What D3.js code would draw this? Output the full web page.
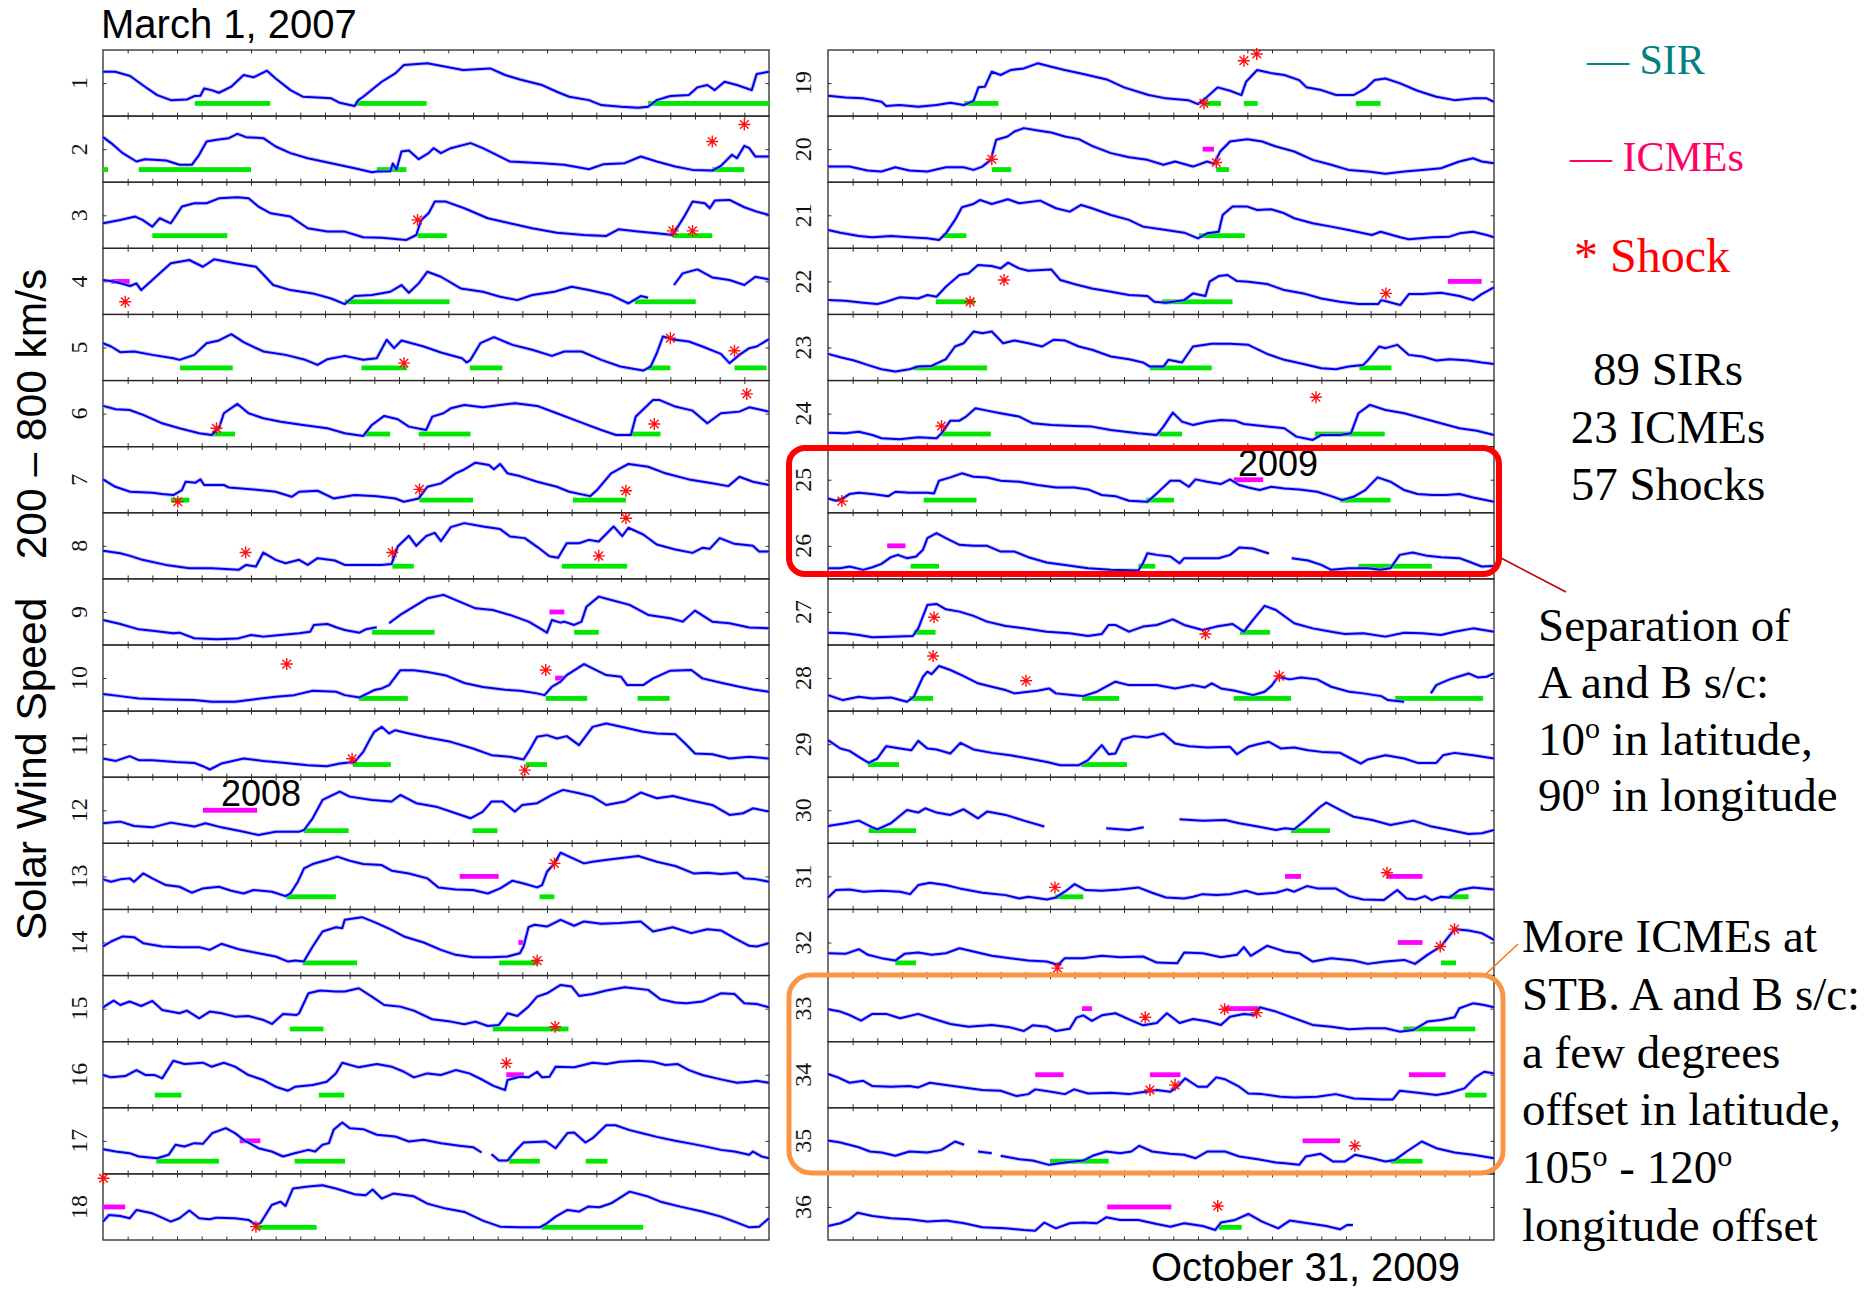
<!DOCTYPE html>
<html>
<head>
<meta charset="utf-8">
<script src="https://cdn.jsdelivr.net/npm/d3@7"></script>
<style>
  body { margin: 0; background: #fff; }
  svg { display: block; }
</style>
</head>
<body>
<div id="chart"></div>
<script>
// Solar wind speed, 36 Carrington rotations of 27 days, March 1 2007 - October 31 2009
// each series: [day in rotation, speed km/s]; null marks a data gap
const rot01 = [[0,603],[0.5,603],[1.1,564],[1.8,451],[2.2,391],[2.75,345],[3.4,351],[3.7,382],[3.95,385],[4.1,451],[4.4,436],[4.7,412],[5.2,467],[5.7,573],[6.1,552],[6.65,612],[7.0,542],[7.6,436],[8.1,376],[8.7,370],[9.25,361],[9.6,321],[10.2,291],[10.35,345],[10.55,376],[11.3,512],[11.85,588],[12.2,664],[13.15,679],[13.9,648],[14.6,618],[15.7,633],[16.3,573],[16.9,533],[17.8,482],[18.4,421],[18.9,376],[19.7,345],[20.2,300],[21.0,285],[21.7,276],[22.1,285],[22.45,345],[23.0,382],[23.75,391],[24.1,461],[24.5,482],[24.8,436],[25.2,512],[25.7,482],[26.3,436],[26.5,582],[27,603]];
const rot02 = [[0,609],[0.33,555],[0.8,464],[1.36,388],[1.7,409],[2.56,397],[3.1,358],[3.6,358],[3.9,449],[4.2,570],[4.6,585],[5.1,600],[5.45,639],[5.8,609],[6.5,600],[7.0,524],[7.6,464],[8.3,418],[9.25,373],[10.2,327],[10.9,291],[11.1,297],[11.65,300],[11.75,370],[11.9,315],[12.1,479],[12.4,488],[12.8,409],[13.2,464],[13.4,509],[13.7,464],[14.1,509],[14.9,555],[15.4,509],[15.95,449],[16.5,388],[17.8,373],[18.7,358],[19.7,318],[20.3,364],[21.15,373],[21.8,433],[22.45,388],[23.2,342],[23.9,312],[24.7,306],[25.05,348],[25.5,449],[25.7,418],[26.0,530],[26.2,509],[26.45,433],[27,433]];
const rot03 = [[0,427],[0.7,458],[1.3,488],[1.6,458],[2.0,397],[2.3,473],[2.75,427],[3.2,579],[3.7,609],[4.2,609],[4.7,654],[5.45,663],[5.9,654],[6.3,579],[6.8,518],[7.6,488],[8.3,382],[9.1,352],[9.8,352],[10.55,300],[11.3,297],[12.3,276],[12.7,321],[12.9,458],[13.2,518],[13.45,624],[13.9,624],[14.65,564],[15.6,473],[16.5,427],[17.4,382],[18.4,342],[19.5,321],[20.4,312],[20.9,373],[21.7,352],[22.45,336],[23.1,321],[23.6,503],[23.9,624],[24.4,609],[24.6,564],[24.8,633],[25.4,639],[26.0,573],[26.5,533],[27,503]];
const rot04 = [[0,512],[0.5,497],[1.1,458],[1.35,482],[1.55,421],[2.0,512],[2.75,664],[3.5,694],[4.05,633],[4.5,700],[5.35,664],[6.2,633],[6.9,467],[7.6,421],[8.5,391],[9.25,345],[9.8,294],[10.2,367],[10.9,376],[11.65,406],[12.1,467],[12.4,397],[12.8,482],[13.15,588],[13.7,542],[14.5,436],[15.4,406],[16.1,361],[16.8,330],[17.4,376],[18.3,406],[19.0,452],[19.7,421],[20.6,376],[21.3,300],[21.8,367],[22.1,352],null,[23.15,467],[23.5,573],[24.1,609],[24.7,536],[25.4,512],[26.0,467],[26.45,542],[27,518]];
const rot05 = [[0,539],[0.33,509],[0.7,458],[1.26,464],[2.0,433],[2.85,403],[3.1,388],[3.7,433],[4.2,539],[4.7,564],[5.2,621],[5.7,548],[6.5,464],[7.4,433],[8.2,388],[8.7,342],[9.1,394],[9.8,424],[10.55,388],[11.1,403],[11.5,570],[11.8,494],[12.1,564],[13.0,509],[13.7,455],[14.55,403],[14.75,364],[14.9,388],[15.3,539],[15.85,594],[16.6,524],[17.4,479],[18.2,424],[18.7,464],[19.4,464],[20.2,388],[20.97,327],[21.9,291],[22.2,327],[22.45,448],[22.7,600],[23.2,570],[23.75,554],[24.3,509],[25.05,442],[25.4,358],[25.8,433],[26.2,494],[26.5,509],[27,576]];
const rot06 = [[0,570],[0.52,539],[1.08,533],[1.63,488],[2.4,412],[3.1,367],[3.9,321],[4.4,306],[4.7,367],[4.9,503],[5.45,588],[5.9,503],[6.5,458],[7.2,427],[8.1,397],[9.1,367],[9.8,321],[10.55,297],[10.9,397],[11.4,479],[11.95,449],[12.4,382],[13.1,351],[13.35,473],[13.8,503],[14.1,548],[14.65,579],[15.4,557],[16.1,579],[16.7,594],[17.6,570],[18.4,503],[19.3,427],[20.2,351],[20.8,306],[21.4,306],[21.6,473],[22.3,624],[22.55,624],[23.2,564],[23.9,527],[24.5,412],[25.05,503],[25.8,518],[26.2,557],[27,518]];
const rot07 = [[0,503],[0.5,436],[1.1,391],[2.0,382],[2.4,370],[2.85,361],[3.2,406],[3.35,482],[3.75,473],[3.95,503],[4.1,452],[4.9,452],[5.1,430],[6.1,412],[7.0,391],[7.65,345],[7.95,391],[8.7,400],[9.35,330],[10.2,361],[11.1,351],[11.85,330],[12.2,300],[12.8,330],[13.15,436],[13.7,467],[14.3,558],[14.6,588],[15.1,655],[15.65,633],[15.85,594],[16.1,643],[16.4,558],[16.9,533],[17.6,482],[18.4,436],[18.9,391],[19.75,351],[20.05,412],[20.6,558],[21.3,643],[22.1,618],[22.8,558],[23.75,503],[24.7,467],[25.35,442],[25.8,527],[26.35,482],[27,452]];
const rot08 = [[0,455],[0.7,433],[1.1,409],[1.6,373],[2.55,327],[3.5,297],[4.4,297],[5.5,282],[5.8,327],[6.2,312],[6.5,439],[7.0,373],[7.4,342],[7.95,373],[8.3,327],[8.7,388],[9.4,367],[9.8,327],[11.3,327],[11.7,336],[11.95,494],[12.4,591],[12.7,500],[13.1,588],[13.45,618],[13.7,542],[14.1,670],[14.65,706],[15.4,676],[16.1,652],[16.5,585],[17.1,570],[17.6,491],[18.1,406],[18.45,391],[18.8,524],[19.3,524],[19.7,554],[20.1,539],[20.7,676],[21.05,588],[21.3,664],[21.9,603],[22.45,512],[23.2,467],[23.9,436],[24.3,482],[24.6,473],[25.0,570],[25.6,518],[26.35,500],[26.6,448],[27,448]];
const rot09 = [[0,427],[0.7,391],[1.45,342],[2.0,330],[2.85,306],[3.1,312],[3.7,261],[4.6,252],[5.45,258],[6.0,291],[6.5,276],[7.2,291],[7.95,306],[8.4,321],[8.55,382],[9.1,391],[9.45,361],[9.8,336],[10.4,312],[10.65,342],[11.1,361],null,[11.6,397],[12.05,473],[12.6,548],[13.15,624],[13.8,655],[14.45,594],[15.1,533],[15.8,518],[16.5,473],[17.25,412],[17.6,367],[18.0,312],[18.2,427],[18.55,403],[18.7,412],[19.1,382],[19.4,412],[19.6,548],[20.1,639],[20.6,609],[21.35,564],[22.1,473],[23.0,442],[23.5,412],[24.0,512],[24.7,412],[25.4,397],[26.2,358],[27,352]];
const rot10 = [[0,355],[0.7,336],[1.45,315],[2.55,306],[3.7,300],[4.4,285],[5.35,285],[6.1,306],[7.0,330],[7.75,345],[8.5,385],[9.45,376],[9.8,345],[10.4,324],[11.0,391],[11.3,406],[11.6,436],[12.05,570],[12.6,570],[13.15,555],[13.9,524],[14.65,455],[15.4,418],[16.3,394],[16.9,385],[17.6,361],[17.9,345],[18.2,421],[18.55,467],[18.8,527],[19.5,627],[19.85,588],[20.4,527],[21.0,512],[21.25,436],[21.9,436],[22.3,497],[23.0,567],[23.85,573],[24.3,497],[25.05,458],[25.8,421],[26.35,397],[27,376]];
const rot11 = [[0,370],[0.52,348],[1.08,391],[1.45,355],[2.0,355],[2.94,339],[3.7,330],[4.05,300],[4.33,270],[4.8,324],[5.7,370],[6.5,348],[7.4,330],[8.3,309],[9.07,300],[9.6,324],[10.2,339],[10.55,430],[10.8,536],[11.0,612],[11.3,657],[11.6,597],[11.85,627],[12.4,597],[13.15,561],[14.1,521],[15.0,461],[15.75,400],[16.5,385],[17.05,361],[17.25,430],[17.6,567],[18.0,582],[18.4,551],[18.8,573],[19.3,491],[19.85,657],[20.4,688],[21.15,651],[21.9,612],[22.45,597],[23.2,591],[23.6,506],[24.0,415],[24.7,409],[25.4,370],[26.2,385],[27,370]];
const rot12 = [[0,382],[0.7,397],[1.26,358],[2.0,345],[2.75,388],[3.7,352],[4.15,382],[4.8,345],[5.7,306],[6.3,276],[7.0,306],[7.95,306],[8.15,321],[8.5,427],[8.9,594],[9.6,670],[10.0,624],[10.9,594],[11.7,579],[12.05,639],[12.7,564],[13.5,533],[14.3,473],[14.9,427],[15.4,488],[15.75,579],[16.2,579],[16.7,488],[17.0,548],[17.6,564],[18.2,639],[18.65,685],[19.3,655],[19.85,624],[20.4,548],[21.15,579],[21.8,661],[22.45,609],[23.1,630],[23.75,594],[24.7,548],[25.4,458],[25.95,473],[26.35,518],[27,488]];
const rot13 = [[0,473],[0.33,452],[0.7,473],[1.08,482],[1.26,452],[1.63,527],[2.0,482],[2.55,421],[3.1,406],[3.6,352],[4.05,391],[4.7,406],[5.2,370],[5.7,345],[6.1,376],[6.85,361],[7.4,321],[7.6,345],[7.9,452],[8.15,573],[8.5,612],[9.07,648],[9.5,679],[10.0,642],[10.55,612],[11.3,603],[11.7,552],[12.4,527],[13.15,482],[13.6,400],[14.3,382],[15.0,376],[15.6,345],[16.1,391],[16.6,461],[17.05,436],[17.6,400],[17.8,421],[18.0,542],[18.3,618],[18.55,715],[18.9,679],[19.5,618],[19.85,633],[20.6,655],[21.7,685],[22.45,633],[23.2,594],[23.95,527],[24.5,533],[25.05,521],[25.7,533],[26.0,482],[26.5,473],[27,452]];
const rot14 = [[0,464],[0.33,509],[0.8,555],[1.26,548],[1.63,494],[2.4,464],[3.1,458],[3.9,458],[4.33,433],[4.8,488],[5.5,439],[6.3,403],[7.0,373],[7.5,327],[7.8,336],[8.14,327],[8.5,464],[8.9,600],[9.45,639],[9.7,630],[9.8,706],[10.5,730],[11.1,676],[11.7,615],[12.2,555],[13.0,500],[13.7,433],[14.3,388],[15.0,367],[15.75,367],[16.4,373],[16.9,403],[17.05,464],[17.25,639],[17.5,661],[18.0,645],[18.55,706],[19.1,652],[19.5,691],[20.2,670],[20.95,676],[21.8,691],[22.3,600],[23.1,639],[23.85,585],[24.5,621],[25.05,609],[25.6,539],[26.2,470],[26.5,464],[27,494]];
const rot15 = [[0,512],[0.43,573],[0.7,533],[1.08,564],[1.55,524],[2.0,570],[2.4,488],[3.1,458],[3.4,482],[3.9,412],[4.33,473],[4.8,458],[5.35,427],[5.9,433],[6.5,397],[6.85,361],[7.3,452],[7.85,442],[7.95,458],[8.33,639],[8.8,664],[9.44,655],[9.8,655],[10.37,685],[10.9,609],[11.4,533],[12.05,518],[12.6,482],[13.35,403],[14.1,382],[14.65,358],[15.1,382],[15.6,342],[16.05,352],[16.4,458],[16.8,433],[17.25,518],[17.6,609],[18.0,639],[18.55,715],[19.0,700],[19.3,615],[19.85,633],[20.4,664],[21.15,694],[22.1,670],[22.6,585],[23.2,555],[23.65,548],[24.3,564],[25.05,639],[25.6,633],[26.0,548],[26.5,542],[27,512]];
const rot16 = [[0,497],[0.33,476],[0.9,488],[1.36,542],[1.73,497],[2.1,497],[2.4,467],[2.85,627],[3.3,597],[4.05,609],[4.4,573],[4.9,609],[5.35,573],[5.9,497],[6.5,452],[7.0,391],[7.5,355],[7.8,391],[8.5,406],[9.07,436],[9.44,512],[9.7,609],[10.37,567],[11.1,597],[11.7,573],[12.2,527],[12.6,476],[13.15,512],[13.7,497],[14.3,542],[14.85,512],[15.4,452],[15.85,397],[16.3,361],[16.4,452],[16.9,482],[17.25,476],[17.6,527],[17.8,476],[18.1,482],[18.35,573],[19.1,567],[19.85,609],[20.4,597],[20.95,618],[21.7,627],[22.3,618],[22.8,588],[23.3,597],[23.75,542],[24.3,497],[25.05,458],[25.7,427],[26.2,436],[26.5,445],[27,427]];
const rot17 = [[0,424],[0.52,403],[1.08,388],[1.45,358],[2.2,342],[2.66,373],[2.94,464],[3.3,448],[3.7,479],[4.05,473],[4.43,570],[4.98,615],[5.35,570],[5.7,509],[6.3,433],[6.84,403],[7.3,358],[7.77,388],[8.33,418],[8.6,403],[8.9,464],[9.16,479],[9.35,600],[9.7,667],[10.0,615],[10.55,606],[11.1,555],[11.85,539],[12.4,494],[13.0,509],[13.7,479],[14.45,455],[15.0,442],[15.35,394],null,[15.75,379],[16.05,321],[16.4,321],[16.7,403],[17.05,485],[17.96,494],[18.35,433],[18.83,570],[19.1,576],[19.56,485],[19.85,524],[20.4,642],[20.78,642],[21.35,597],[21.9,567],[22.45,536],[23.2,500],[23.94,470],[24.5,445],[25.05,418],[25.6,403],[26.2,373],[26.35,403],[26.7,358],[27,342]];
const rot18 = [[0,367],[0.24,427],[0.7,418],[1.08,397],[1.36,473],[2.0,442],[2.75,367],[3.1,397],[3.5,467],[3.9,397],[4.33,388],[4.6,403],[5.35,397],[5.9,382],[6.2,336],[6.4,358],[6.84,518],[7.2,548],[7.4,509],[7.7,667],[8.33,685],[8.9,697],[9.44,667],[10.2,615],[10.65,606],[10.93,658],[11.3,576],[11.77,621],[12.6,597],[13.15,530],[13.9,485],[14.65,455],[15.4,376],[16.1,321],[16.9,315],[17.7,315],[18.0,352],[18.35,412],[18.83,473],[19.3,458],[19.67,503],[20.13,497],[20.6,533],[21.35,639],[22.1,594],[22.6,548],[23.4,503],[24.3,458],[25.05,412],[25.6,367],[26.2,315],[26.6,321],[27,397]];
const rot19 = [[0,385],[0.7,370],[1.43,361],[2.17,330],[2.36,291],[2.9,300],[3.66,285],[4.4,300],[4.96,321],[5.5,300],[5.9,339],[6.1,461],[6.36,467],[6.64,603],[7.0,573],[7.4,618],[7.94,633],[8.5,679],[9.05,648],[9.6,618],[10.35,582],[11.3,533],[12.0,461],[13.0,391],[13.7,361],[14.6,345],[15.0,309],[15.3,361],[15.8,461],[16.3,430],[16.76,391],[16.95,512],[17.4,618],[18.0,588],[18.5,573],[19.1,527],[19.4,461],[20.0,436],[20.6,391],[21.3,391],[21.8,451],[22.16,527],[22.6,542],[23.2,497],[23.9,430],[24.66,376],[25.4,345],[26.15,361],[26.7,361],[27,330]];
const rot20 = [[0,342],[0.87,342],[1.6,306],[2.17,297],[2.73,336],[3.3,306],[4.03,297],[4.78,336],[5.5,336],[5.9,312],[6.26,342],[6.6,403],[6.82,585],[7.28,615],[7.56,660],[7.94,691],[8.5,670],[9.05,651],[9.6,615],[10.17,591],[10.7,530],[11.47,464],[12.2,427],[12.95,403],[13.6,358],[14.07,388],[14.8,342],[15.37,388],[15.65,367],[15.9,479],[16.3,570],[17.0,591],[17.6,570],[18.16,524],[18.9,479],[19.65,403],[20.4,358],[21.1,312],[21.9,297],[22.6,276],[23.36,297],[24.1,312],[24.85,327],[25.6,388],[26.15,418],[26.5,388],[27,373]];
const rot21 = [[0,367],[0.5,342],[1.25,312],[1.8,300],[2.55,312],[3.3,300],[4.03,291],[4.5,276],[4.78,336],[5.15,458],[5.43,573],[5.9,603],[6.17,639],[6.64,603],[7.29,645],[7.75,609],[8.6,633],[9.24,564],[9.8,533],[10.26,594],[10.7,564],[11.47,503],[12.2,458],[12.77,397],[13.7,367],[14.44,342],[15.0,291],[15.37,336],[15.84,351],[16.0,503],[16.4,579],[17.0,579],[17.4,548],[17.97,554],[18.5,518],[18.9,473],[19.65,427],[20.4,397],[21.1,367],[22.05,321],[22.4,351],[23.2,300],[23.55,282],[24.5,300],[25.2,306],[25.6,336],[26.15,351],[26.7,321],[27,300]];
const rot22 = [[0,330],[0.7,324],[1.43,306],[2.0,294],[2.36,315],[2.9,355],[3.66,345],[4.03,376],[4.4,361],[4.78,452],[5.33,558],[5.7,573],[6.08,648],[6.64,639],[7.0,618],[7.3,670],[7.75,618],[8.12,597],[9.05,609],[9.42,512],[9.98,476],[10.7,436],[11.47,406],[12.2,376],[12.95,367],[13.23,315],[13.7,306],[14.44,330],[14.8,391],[15.3,367],[15.47,497],[15.84,548],[16.2,558],[16.58,503],[17.04,497],[17.8,476],[18.5,421],[19.27,391],[20.0,345],[20.76,315],[21.5,294],[22.3,294],[22.43,330],[22.7,315],[23.2,285],[23.55,385],[24.1,385],[24.85,397],[25.6,367],[26.15,330],[26.5,385],[27,445]];
const rot23 = [[0,442],[0.5,412],[1.06,382],[1.6,342],[2.17,303],[2.73,282],[3.3,303],[3.66,327],[4.2,333],[4.78,394],[5.15,509],[5.5,539],[5.9,645],[6.26,630],[6.64,645],[7.1,539],[7.56,564],[8.12,539],[8.68,509],[9.14,570],[9.6,564],[10.17,509],[10.7,479],[11.47,418],[12.2,394],[12.77,364],[13.05,327],[13.6,327],[13.8,388],[14.35,364],[14.8,509],[15.56,533],[16.3,533],[17.04,524],[17.8,442],[18.5,388],[19.27,351],[20.0,312],[20.6,303],[21.1,327],[21.7,342],[21.9,388],[22.34,509],[22.6,494],[23.08,524],[23.55,433],[24.1,418],[24.66,382],[25.2,394],[25.97,382],[26.5,364],[27,351]];
const rot24 = [[0,327],[0.7,321],[1.25,336],[1.8,306],[2.17,276],[2.9,267],[3.66,285],[4.4,276],[4.6,321],[4.96,436],[5.33,436],[5.6,473],[5.98,548],[6.45,527],[7.0,503],[7.75,473],[8.3,412],[9.05,397],[9.98,388],[10.7,382],[11.47,351],[12.58,321],[13.33,306],[13.6,382],[13.98,509],[14.35,427],[14.8,397],[15.37,427],[15.93,442],[16.5,436],[16.86,406],[17.6,388],[18.5,367],[18.99,291],[19.65,261],[20.0,306],[20.76,306],[21.2,321],[21.5,503],[21.97,579],[22.6,533],[23.36,503],[24.1,458],[24.85,412],[25.6,367],[26.3,345],[27,306]];
const rot25 = [[0,330],[0.32,309],[0.6,330],[0.87,370],[1.25,382],[1.8,370],[2.45,351],[2.73,391],[3.3,382],[4.03,382],[4.3,376],[4.5,491],[4.96,521],[5.43,558],[5.9,527],[6.45,521],[7.0,491],[7.75,482],[8.5,452],[9.24,430],[9.98,430],[10.54,412],[11.1,361],[11.65,351],[12.2,309],[12.95,300],[13.33,376],[13.88,491],[14.25,491],[14.63,436],[14.9,503],[15.37,482],[15.93,461],[16.3,503],[16.67,452],[17.04,430],[17.5,406],[17.97,436],[18.5,421],[19.1,412],[19.83,391],[20.4,351],[20.85,315],[21.3,345],[21.78,406],[22.28,521],[22.8,482],[23.36,406],[23.9,370],[24.5,361],[25.05,361],[25.6,370],[26.15,339],[27,300]];
const rot26 = [[0,297],[0.5,297],[0.87,312],[1.43,282],[1.8,306],[2.17,336],[2.55,397],[2.83,418],[3.2,388],[3.57,403],[3.85,464],[4.03,570],[4.4,615],[4.78,570],[5.33,509],[5.9,500],[6.45,500],[7.0,448],[7.56,448],[8.12,397],[8.87,348],[9.6,327],[10.54,297],[11.47,282],[12.58,276],[12.77,342],[12.95,433],[13.33,418],[13.88,403],[14.25,342],[14.44,388],[15.19,388],[15.84,388],[16.3,418],[16.67,485],[17.23,476],[17.88,430],null,[18.8,388],[19.46,367],[20.0,327],[20.4,282],[21.13,297],[21.88,297],[22.4,282],[22.8,297],[23.18,418],[23.7,439],[24.3,409],[24.85,397],[25.6,388],[25.97,358],[26.5,312],[27,318]];
const rot27 = [[0,312],[0.7,306],[1.25,291],[1.8,270],[2.55,276],[3.44,282],[3.66,351],[4.03,564],[4.4,573],[4.78,524],[5.33,503],[5.9,464],[6.45,412],[7.2,373],[7.94,351],[8.87,321],[9.8,306],[10.54,282],[11.1,300],[11.38,382],[11.65,382],[12.2,321],[12.77,367],[13.33,382],[13.98,433],[14.44,382],[15.19,336],[15.74,367],[16.4,391],[16.86,321],[17.23,427],[17.7,555],[18.16,518],[18.9,397],[19.65,351],[20.4,321],[20.95,300],[21.7,306],[22.6,276],[23.36,312],[24.1,306],[24.85,291],[25.4,321],[26.15,351],[27,321]];
const rot28 = [[0,345],[0.6,300],[1.25,330],[1.8,315],[2.55,324],[3.2,285],[3.48,330],[3.85,512],[4.03,558],[4.2,536],[4.5,609],[4.96,573],[5.5,518],[6.08,452],[6.64,421],[7.2,391],[7.56,361],[8.12,376],[8.5,385],[8.96,406],[9.24,361],[9.98,345],[10.35,336],[10.9,376],[11.65,467],[12.2,436],[13.33,436],[14.07,406],[14.8,436],[15.28,415],[15.56,452],[15.93,406],[16.5,385],[17.23,345],[17.7,376],[17.97,427],[18.25,512],[18.72,488],[19.18,506],[19.83,488],[20.4,421],[21.13,376],[21.7,361],[22.43,336],[22.7,300],[23.36,285],null,[24.44,361],[24.66,436],[25.2,488],[25.97,542],[26.34,506],[26.7,512],[27,542]];
const rot29 = [[0,536],[0.5,461],[0.87,439],[1.25,385],[1.65,330],[2.0,370],[2.36,482],[2.92,461],[3.38,445],[3.66,530],[4.03,461],[4.4,452],[4.96,415],[5.37,512],[5.9,452],[6.64,421],[7.38,400],[8.12,370],[8.87,339],[9.42,309],[10.17,309],[10.54,355],[11.1,491],[11.38,409],[11.65,415],[11.93,542],[12.4,573],[12.95,561],[13.33,582],[13.6,597],[14.07,506],[14.63,482],[15.37,470],[16.3,476],[16.58,409],[17.04,476],[17.42,500],[17.88,521],[18.35,461],[18.9,470],[19.46,445],[20.0,430],[20.76,421],[21.2,370],[21.6,324],[21.88,361],[22.6,400],[23.36,370],[23.9,330],[24.66,330],[24.94,400],[25.4,421],[26.15,400],[27,370]];
const rot30 = [[0,358],[0.7,382],[1.25,406],[1.8,345],[2.0,327],[2.55,382],[3.2,503],[3.66,479],[3.94,518],[4.4,479],[4.96,458],[5.5,509],[6.08,427],[6.45,488],[7.2,458],[7.94,406],[8.77,352],null,[11.28,336],[12.2,321],[12.8,345],null,[14.25,418],[15.19,406],[16.1,412],[16.67,382],[17.42,352],[18.16,321],[18.53,336],[18.9,327],[19.37,412],[19.93,527],[20.2,570],[20.76,503],[21.3,442],[22.06,412],[22.8,367],[23.73,406],[24.48,352],[25.2,321],[25.97,285],[26.5,291],[27,321]];
const rot31 = [[0,309],[0.32,376],[0.87,382],[1.43,361],[2.17,370],[2.92,361],[3.33,339],[3.66,421],[4.13,442],[4.78,421],[5.33,391],[6.26,352],[7.2,330],[7.75,300],[8.12,315],[8.87,291],[9.24,309],[9.6,361],[10.0,430],[10.45,376],[11.1,370],[11.84,382],[12.58,400],[13.14,352],[13.7,309],[14.44,300],[14.8,315],[15.19,339],[15.74,330],[16.3,339],[16.95,370],[17.42,339],[18.16,352],[18.62,382],[18.9,361],[19.42,412],[19.83,391],[20.58,391],[21.13,321],[21.69,291],[22.53,285],[23.08,376],[23.46,300],[23.83,291],[24.2,321],[24.48,285],[24.85,315],[25.2,309],[25.6,376],[26.15,400],[27,382]];
const rot32 = [[0,403],[0.7,397],[1.25,439],[1.62,388],[2.17,358],[2.73,336],[3.1,397],[3.66,409],[4.2,388],[4.78,403],[5.33,448],[5.9,418],[6.64,379],[7.38,358],[8.12,336],[8.87,327],[9.33,297],[9.6,358],[10.35,358],[11.1,379],[11.84,367],[12.77,373],[13.33,318],[14.16,312],[14.44,409],[15.19,403],[15.93,367],[16.58,388],[16.86,458],[17.14,379],[17.8,470],[18.53,418],[19.1,403],[19.65,327],[20.4,358],[21.32,336],[21.88,306],[22.6,327],[23.36,342],[23.8,306],[24.3,388],[24.85,464],[25.4,621],[25.97,609],[26.5,585],[27,524]];
const rot33 = [[0,494],[0.5,473],[0.87,442],[1.34,391],[1.8,452],[2.36,452],[2.92,412],[3.66,452],[4.2,412],[4.96,361],[5.7,336],[6.64,352],[7.38,330],[7.94,297],[8.3,348],[8.87,336],[9.24,297],[9.8,318],[10.07,418],[10.35,439],[10.7,388],[11.1,439],[11.65,458],[12.2,403],[12.77,348],[13.33,370],[13.74,458],[14.25,370],[14.8,406],[15.37,385],[15.93,352],[16.3,427],[16.86,452],[17.3,442],[17.5,512],[18.16,473],[18.9,412],[19.65,352],[20.4,336],[21.13,312],[21.88,321],[22.6,321],[23.18,291],[23.73,306],[24.3,382],[24.85,397],[25.4,421],[25.6,503],[26.15,548],[26.6,533],[27,512]];
const rot34 = [[0,506],[0.4,476],[0.87,427],[1.43,445],[1.8,397],[2.55,391],[3.3,397],[3.66,385],[4.13,427],[4.78,406],[5.5,385],[6.26,361],[7.0,355],[7.65,306],[8.12,324],[8.4,367],[9.05,345],[9.6,324],[9.98,367],[10.54,330],[11.47,336],[12.2,324],[12.86,345],[13.33,361],[13.88,345],[14.16,391],[14.48,467],[15.0,391],[15.37,391],[15.74,476],[16.1,458],[16.67,391],[17.04,330],[17.6,324],[18.35,300],[18.9,294],[19.83,300],[20.58,324],[21.32,285],[22.43,276],[22.9,276],[23.18,355],[23.92,336],[24.66,315],[25.2,336],[25.8,376],[26.24,476],[26.6,527],[27,512]];
const rot35 = [[0,503],[0.5,485],[1.25,442],[1.7,403],[2.17,394],[2.73,364],[3.3,403],[4.03,394],[4.6,418],[4.87,455],[5.15,494],[5.52,464],null,[6.08,403],[6.64,388],null,[7.0,364],[7.75,333],[8.3,321],[8.96,282],[9.6,303],[10.35,321],[10.73,364],[11.28,403],[11.84,388],[12.3,403],[12.62,455],[13.14,403],[13.88,382],[14.44,373],[14.9,342],[15.37,403],[16.1,403],[16.67,358],[17.42,333],[18.16,303],[18.53,297],[19.1,282],[19.37,358],[19.98,382],[20.48,312],[20.95,312],[21.36,373],[22.06,342],[22.6,312],[22.99,327],[23.46,403],[24.07,494],[24.66,433],[25.4,394],[26.15,373],[27,342]];
const rot36 = [[0,327],[0.5,352],[0.87,388],[1.2,448],[1.8,418],[2.55,397],[3.3,388],[4.03,367],[4.78,376],[5.52,352],[6.26,315],[7.2,306],[7.94,291],[8.4,285],[8.77,358],[9.24,306],[9.8,352],[10.35,358],[10.9,352],[11.28,406],[11.84,382],[12.58,382],[13.33,345],[13.88,321],[14.44,352],[15.19,327],[15.7,291],[15.93,358],[16.5,382],[17.04,436],[17.6,367],[18.25,306],[18.72,376],[19.46,352],[20.2,327],[20.76,297],[21.04,336],[21.28,336]];

const rotations = [rot01, rot02, rot03, rot04, rot05, rot06, rot07, rot08, rot09, rot10, rot11, rot12,
  rot13, rot14, rot15, rot16, rot17, rot18, rot19, rot20, rot21, rot22, rot23, rot24,
  rot25, rot26, rot27, rot28, rot29, rot30, rot31, rot32, rot33, rot34, rot35, rot36];

// SIR intervals: [rotation, start day, end day]
const sirBars = [
  [1,3.72,6.78],[1,10.22,13.12],[1,22.1,27],
  [2,0,0.2],[2,1.45,6.0],[2,11.1,12.3],[2,24.7,26.0],
  [3,2.0,5.04],[3,12.75,13.94],[3,23.1,24.7],
  [4,9.8,14.05],[4,21.56,24.03],
  [5,3.12,5.26],[5,10.48,12.32],[5,14.87,16.19],[5,22.1,23.0],[5,25.6,26.9],
  [6,4.42,5.35],[6,10.6,11.64],[6,12.8,14.9],[6,21.4,22.6],
  [7,2.75,3.5],[7,12.83,15.0],[7,19.05,21.2],
  [8,11.73,12.6],[8,18.6,21.25],
  [9,10.9,13.44],[9,19.1,20.1],
  [10,10.37,12.36],[10,17.95,19.63],[10,21.67,22.97],
  [11,10.13,11.67],[11,17.14,18.0],
  [12,8.14,9.96],[12,14.98,15.99],
  [13,7.43,9.44],[13,17.7,18.3],
  [14,8.1,10.3],[14,16.06,17.66],
  [15,7.58,8.94],[15,15.8,18.87],
  [16,2.1,3.18],[16,8.75,9.78],
  [17,2.16,4.7],[17,7.77,9.81],[17,16.47,17.71],[17,19.57,20.45],
  [18,6.2,8.66],[18,17.77,21.9],
  [19,5.52,6.91],[19,15.24,15.93],[19,16.86,17.42],[19,21.4,22.4],
  [20,6.64,7.43],[20,15.74,16.26],
  [21,4.63,5.61],[21,15.04,16.9],
  [22,4.37,5.95],[22,13.55,16.4],
  [23,3.48,6.45],[23,13.05,15.56],[23,21.54,22.84],
  [24,4.6,6.6],[24,13.42,14.35],[24,19.74,22.57],
  [25,3.88,6.02],[25,12.9,14.03],[25,20.76,22.8],
  [26,3.35,4.5],[26,12.58,13.27],[26,21.5,24.48],
  [27,3.48,4.36],[27,16.7,17.92],
  [28,3.3,4.26],[28,10.3,11.8],[28,16.45,18.77],[28,22.99,26.56],
  [29,1.62,2.88],[29,10.26,12.12],
  [30,1.65,3.57],[30,18.77,20.35],
  [31,9.2,10.35],[31,25.17,25.97],
  [32,2.73,3.57],[32,24.85,25.46],
  [33,23.33,26.24],
  [34,25.83,26.7],
  [35,9.0,11.38],[35,22.8,24.1],
  [36,15.84,16.77]
];

// ICME intervals: [rotation, start day, end day]
const icmeBars = [
  [4,0.33,1.08],[9,18.1,18.7],[10,18.33,18.68],[12,4.05,6.25],[13,14.46,16.04],
  [14,16.84,17.03],[16,16.35,17.06],[17,5.54,6.38],[18,0,0.9],[20,15.19,15.65],
  [22,25.13,26.5],[25,16.45,17.64],[26,2.4,3.14],[31,18.53,19.18],[31,22.66,24.1],
  [32,23.1,24.1],[33,10.3,10.7],[33,16.1,17.42],[34,8.4,9.55],[34,13.05,14.29],
  [34,23.55,25.04],[35,19.24,20.76],[36,11.32,13.92]
];

// shocks: [rotation, day, plotted speed km/s]
const shocks = [
  [2,24.7,570],[2,26.0,724],
  [3,12.75,458],[3,23.1,358],[3,23.9,358],
  [4,0.9,315],
  [5,12.2,358],[5,23.0,585],[5,25.6,470],
  [6,4.6,367],[6,22.35,406],[6,26.1,679],
  [7,3.03,300],[7,12.83,412],[7,21.2,400],
  [8,5.78,439],[8,11.73,439],[8,21.2,751],[8,20.1,409],
  [10,7.45,627],[10,17.95,573],
  [11,10.1,367],[11,17.1,264],
  [13,18.3,618],[14,17.6,336],[15,18.33,336],[16,16.35,603],
  [18,0.02,760],[18,6.2,321],
  [19,15.24,315],[19,16.86,703],[19,17.38,764],
  [20,6.64,409],[20,15.74,379],
  [22,5.76,315],[22,7.14,512],[22,22.62,391],
  [24,4.6,388],[24,19.78,648],
  [25,0.56,306],
  [27,4.3,452],[27,15.3,300],
  [28,4.26,700],[28,8.03,476],[28,18.3,518],
  [31,9.2,400],[31,22.66,533],
  [32,9.3,267],[32,24.82,464],[32,25.4,621],
  [33,12.86,421],[33,16.08,494],[33,17.38,464],
  [34,13.05,361],[34,14.07,406],
  [35,21.36,455],
  [36,15.8,509]
];

const dayTicks = d3.range(1, 27);
const speedDomain = [200, 800];
const sirLevel = 315;
const icmeLevel = 500;

const legendRows = ['— SIR', '— ICMEs', '* Shock'];
const countRows = ['89 SIRs', '23 ICMEs', '57 Shocks'];
const noteA = ['Separation of', 'A and B s/c:', ['10', 'o', ' in latitude,'], ['90', 'o', ' in longitude']];
const noteB = ['More ICMEs at', 'STB. A and B s/c:', 'a few degrees', 'offset in latitude,', ['105', 'o', ' - 120', 'o', ''], 'longitude offset'];

// ---------------------------------------------------------------
const W = 1870, H = 1293;
const colX = [103, 828];
const panelW = 666;
const top0 = 50;
const panelH = 1190 / 18;
const SANS = '"Liberation Sans", Arial, Helvetica, sans-serif';
const SERIF = '"Liberation Serif", "Times New Roman", Times, serif';

const svg = d3.select('#chart')
  .append('svg')
  .attr('width', W)
  .attr('height', H)
  .attr('viewBox', `0 0 ${W} ${H}`);

svg.append('rect').attr('width', W).attr('height', H).attr('fill', '#fff');

// asterisk marker like the Matlab '*'
function asterisk(r) {
  const k = r * 0.72;
  return `M${-r},0L${r},0M0,${-r}L0,${r}M${-k},${-k}L${k},${k}M${-k},${k}L${k},${-k}`;
}

function panelGeom(i) {
  const col = i < 18 ? 0 : 1;
  const row = i % 18;
  const x0 = colX[col];
  const y0 = top0 + row * panelH;
  const x = d3.scaleLinear().domain([0, 27]).range([x0, x0 + panelW]);
  const y = d3.scaleLinear().domain(speedDomain).range([y0 + panelH, y0]);
  return { col, x0, y0, x, y };
}

rotations.forEach(function(series, i) {
  const n = i + 1;
  const { col, x0, y0, x, y } = panelGeom(i);
  const g = svg.append('g').attr('class', 'panel');

  // inward ticks on all four sides
  const tickTop = d3.axisTop(x).tickValues(dayTicks).tickSize(-3.5).tickFormat('');
  const tickBottom = d3.axisBottom(x).tickValues(dayTicks).tickSize(-3.5).tickFormat('');
  const tickLeft = d3.axisLeft(y).tickValues([500]).tickSize(-3.5).tickFormat('');
  const tickRight = d3.axisRight(y).tickValues([500]).tickSize(-3.5).tickFormat('');

  [[tickTop, `translate(0,${y0})`], [tickBottom, `translate(0,${y0 + panelH})`],
   [tickLeft, `translate(${x0},0)`], [tickRight, `translate(${x0 + panelW},0)`]].forEach(function(a) {
    g.append('g')
      .attr('transform', a[1])
      .call(a[0])
      .call(s => s.select('.domain').remove())
      .call(s => s.selectAll('line').attr('stroke', '#333').attr('stroke-width', 1));
  });

  g.append('rect')
    .attr('x', x0)
    .attr('y', y0)
    .attr('width', panelW)
    .attr('height', panelH)
    .attr('fill', 'none')
    .attr('stroke', '#2a2a2a')
    .attr('stroke-width', 1.3);

  // ICME and SIR intervals
  g.selectAll('.icme')
    .data(icmeBars.filter(d => d[0] === n))
    .enter()
    .append('rect')
    .attr('class', 'icme')
    .attr('x', d => x(d[1]))
    .attr('width', d => x(d[2]) - x(d[1]))
    .attr('y', y(icmeLevel) - 2.4)
    .attr('height', 4.8)
    .attr('fill', '#ff00ff');

  g.selectAll('.sir')
    .data(sirBars.filter(d => d[0] === n))
    .enter()
    .append('rect')
    .attr('class', 'sir')
    .attr('x', d => x(d[1]))
    .attr('width', d => x(d[2]) - x(d[1]))
    .attr('y', y(sirLevel) - 2.4)
    .attr('height', 4.8)
    .attr('fill', '#00e800');

  // speed trace with a light halo
  const line = d3.line()
    .defined(d => d !== null)
    .x(d => x(d[0]))
    .y(d => y(d[1]));

  g.append('path')
    .datum(series)
    .attr('d', line)
    .attr('fill', 'none')
    .attr('stroke', '#9a9aff')
    .attr('stroke-width', 3.8)
    .attr('stroke-opacity', 0.65)
    .attr('stroke-linejoin', 'round');

  g.append('path')
    .datum(series)
    .attr('d', line)
    .attr('fill', 'none')
    .attr('stroke', '#0000ee')
    .attr('stroke-width', 2)
    .attr('stroke-linejoin', 'round');

  // shocks
  g.selectAll('.shock')
    .data(shocks.filter(d => d[0] === n))
    .enter()
    .append('path')
    .attr('class', 'shock')
    .attr('transform', d => `translate(${x(d[1])},${y(d[2])})`)
    .attr('d', asterisk(6))
    .attr('fill', 'none')
    .attr('stroke', '#ff1010')
    .attr('stroke-width', 1.4);

  // rotation number
  const lx = col === 0 ? 86.5 : 810.5;
  g.append('text')
    .attr('transform', `translate(${lx},${y0 + panelH / 2}) rotate(-90)`)
    .attr('text-anchor', 'middle')
    .attr('font-family', SERIF)
    .attr('font-size', 24)
    .attr('fill', '#111')
    .text(n);
});

// dates and year markers
function label(x, y, str, size) {
  svg.append('text')
    .attr('x', x)
    .attr('y', y)
    .attr('font-family', SANS)
    .attr('font-size', size)
    .attr('fill', '#000')
    .text(str);
}
label(101, 38, 'March 1, 2007', 40);
label(1151, 1281, 'October 31, 2009', 40);
label(221, 806, '2008', 36);
label(1238, 476, '2009', 36);

// y axis title
svg.append('text')
  .attr('transform', 'translate(46,414) rotate(-90)')
  .attr('text-anchor', 'middle')
  .attr('font-family', SANS)
  .attr('font-size', 42.5)
  .text('200 – 800 km/s');
svg.append('text')
  .attr('transform', 'translate(46,769) rotate(-90)')
  .attr('text-anchor', 'middle')
  .attr('font-family', SANS)
  .attr('font-size', 42.5)
  .text('Solar Wind Speed');

// highlight boxes and their pointers
svg.append('rect')
  .attr('x', 789).attr('y', 448)
  .attr('width', 710).attr('height', 126)
  .attr('rx', 16).attr('ry', 16)
  .attr('fill', 'none')
  .attr('stroke', '#ff0000')
  .attr('stroke-width', 6);
svg.append('line')
  .attr('x1', 1501).attr('y1', 558)
  .attr('x2', 1566).attr('y2', 592)
  .attr('stroke', '#c00000')
  .attr('stroke-width', 1.6);

svg.append('rect')
  .attr('x', 789).attr('y', 975)
  .attr('width', 714).attr('height', 198)
  .attr('rx', 22).attr('ry', 22)
  .attr('fill', 'none')
  .attr('stroke', '#f79646')
  .attr('stroke-width', 5);
svg.append('line')
  .attr('x1', 1486).attr('y1', 974)
  .attr('x2', 1518).attr('y2', 944)
  .attr('stroke', '#f07a20')
  .attr('stroke-width', 1.6);

// legend
const legendStyle = [
  { x: 1587, y: 74, size: 42, color: '#008080' },
  { x: 1570, y: 171, size: 42, color: '#ff0066' },
  { x: 1574, y: 272, size: 48, color: '#ff0000' }
];
legendRows.forEach(function(t, i) {
  const s = legendStyle[i];
  svg.append('text')
    .attr('x', s.x).attr('y', s.y)
    .attr('font-family', SERIF)
    .attr('font-size', s.size)
    .attr('fill', s.color)
    .text(t);
});

const countY = [385, 443, 500];
countRows.forEach(function(t, i) {
  svg.append('text')
    .attr('x', 1668).attr('y', countY[i])
    .attr('text-anchor', 'middle')
    .attr('font-family', SERIF)
    .attr('font-size', 47)
    .attr('fill', '#000')
    .text(t);
});

// multi-line notes, superscript "o" for degrees
function note(lines, x, y0, dy) {
  lines.forEach(function(ln, i) {
    const t = svg.append('text')
      .attr('x', x)
      .attr('y', y0 + i * dy)
      .attr('font-family', SERIF)
      .attr('font-size', 47)
      .attr('fill', '#000');
    if (typeof ln === 'string') {
      t.text(ln);
    } else {
      ln.forEach(function(part, j) {
        const sup = j % 2 === 1;
        t.append('tspan')
          .attr('font-size', sup ? 30 : 47)
          .attr('dy', sup ? -17 : (j > 0 ? 17 : 0))
          .text(part);
      });
    }
  });
}
note(noteA, 1538, 641, 56.8);
note(noteB, 1522, 952, 57.8);
</script>
</body>
</html>
